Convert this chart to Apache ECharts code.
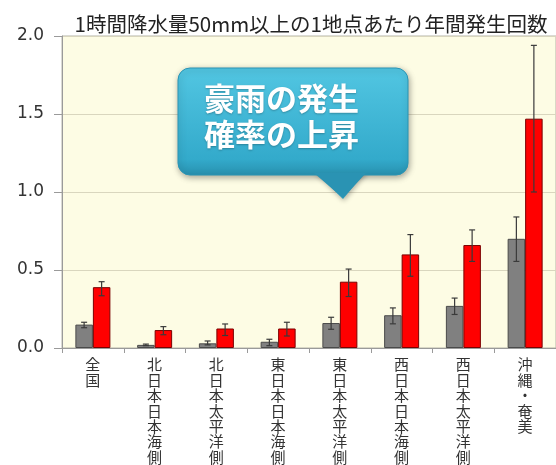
<!DOCTYPE html>
<html>
<head>
<meta charset="utf-8">
<script src="https://cdn.jsdelivr.net/npm/echarts@6/dist/echarts.min.js"></script>
<style>html,body{margin:0;padding:0;background:#fff;}#c{width:556px;height:465px;}</style>
</head>
<body>
<div id="c"></div>
<script>
var titleText = '1時間降水量50mm以上の1地点あたり年間発生回数';
var categories = ['全国','北日本日本海側','北日本太平洋側','東日本日本海側','東日本太平洋側','西日本日本海側','西日本太平洋側','沖縄・奄美'];
var presentValues = [0.15, 0.02, 0.03, 0.04, 0.16, 0.21, 0.27, 0.70];
var presentLow    = [0.13, 0.015, 0.02, 0.015, 0.12, 0.155, 0.215, 0.555];
var presentHigh   = [0.165, 0.025, 0.045, 0.056, 0.197, 0.257, 0.32, 0.84];
var futureValues  = [0.39, 0.115, 0.125, 0.125, 0.425, 0.60, 0.66, 1.47];
var futureLow     = [0.335, 0.085, 0.08, 0.077, 0.33, 0.46, 0.555, 1.0];
var futureHigh    = [0.425, 0.137, 0.154, 0.165, 0.506, 0.727, 0.757, 1.94];
var calloutLines = ['豪雨の発生', '確率の上昇'];

var BAR_W = 17.5;
function errData(low, high) {
  return low.map(function (l, i) { return [i, l, high[i]]; });
}
function errRender(offset) {
  return function (params, api) {
    var i = api.value(0);
    var top = api.coord([i, api.value(2)]);
    var bot = api.coord([i, api.value(1)]);
    var x = top[0] + offset;
    var cap = 3;
    var st = { stroke: '#3a3a3a', lineWidth: 1.2 };
    return { type: 'group', children: [
      { type: 'line', shape: { x1: x, y1: top[1], x2: x, y2: bot[1] }, style: st },
      { type: 'line', shape: { x1: x - cap, y1: top[1], x2: x + cap, y2: top[1] }, style: st },
      { type: 'line', shape: { x1: x - cap, y1: bot[1], x2: x + cap, y2: bot[1] }, style: st }
    ] };
  };
}

var grad = new echarts.graphic.LinearGradient(0, 0, 0, 1, [
  { offset: 0, color: '#52C6E2' },
  { offset: 0.85, color: '#33AACB' },
  { offset: 1, color: '#2890AE' }
]);

var chart = echarts.init(document.getElementById('c'), null, { renderer: 'canvas' });
chart.setOption({
  backgroundColor: '#ffffff',
  animation: false,
  title: {
    text: titleText, left: 306, top: 9, textAlign: 'center',
    textStyle: { fontFamily: 'Noto Sans CJK JP', fontSize: 20.5, fontWeight: 'normal', color: '#222' }
  },
  grid: {
    left: 62, right: -3, top: 36, bottom: 117, show: true,
    backgroundColor: '#FDFCE4', borderColor: '#B4B4A8', borderWidth: 1
  },
  xAxis: {
    type: 'category', data: categories,
    axisLine: { lineStyle: { color: '#9a9a9a' } },
    axisTick: { show: true, length: 5, lineStyle: { color: '#9a9a9a' } },
    axisLabel: {
      interval: 0, margin: 9,
      fontFamily: 'Noto Sans CJK JP', fontSize: 15, lineHeight: 15.4, color: '#333',
      formatter: function (v) { return v.split('').join('\n'); }
    }
  },
  yAxis: {
    type: 'value', min: 0, max: 2, interval: 0.5,
    axisLine: { show: true, lineStyle: { color: '#9a9a9a' } },
    axisTick: { show: true, length: 8, lineStyle: { color: '#9a9a9a' } },
    splitLine: { lineStyle: { color: '#D9D6BE' } },
    axisLabel: {
      margin: 18, fontFamily: 'DejaVu Sans', fontSize: 17, color: '#333',
      formatter: function (v) { return Number(v).toFixed(1); }
    }
  },
  series: [
    {
      name: '現在', type: 'bar', data: presentValues, barWidth: BAR_W, barGap: '0%',
      itemStyle: { color: '#808080', borderColor: '#4a4a4a', borderWidth: 1 }
    },
    {
      name: '将来', type: 'bar', data: futureValues, barWidth: BAR_W, barGap: '0%',
      itemStyle: { color: '#FF0000', borderColor: '#7a0000', borderWidth: 1 }
    },
    {
      type: 'custom', data: errData(presentLow, presentHigh), renderItem: errRender(-BAR_W / 2),
      encode: { x: 0, y: [1, 2] }, z: 10, silent: true
    },
    {
      type: 'custom', data: errData(futureLow, futureHigh), renderItem: errRender(BAR_W / 2),
      encode: { x: 0, y: [1, 2] }, z: 10, silent: true
    }
  ],
  graphic: [
    {
      type: 'polygon', z: 100,
      shape: { points: [[313, 170], [367, 170], [343, 199]] },
      style: {
        fill: '#2E9FC0',
        shadowBlur: 5, shadowColor: 'rgba(0,0,0,0.3)', shadowOffsetX: 1, shadowOffsetY: 2
      }
    },
    {
      type: 'rect', z: 101,
      shape: { x: 178, y: 68, width: 230, height: 107, r: 12 },
      style: {
        fill: grad, stroke: '#2A95B5', lineWidth: 1,
        shadowBlur: 6, shadowColor: 'rgba(0,0,0,0.35)', shadowOffsetX: 1, shadowOffsetY: 2
      }
    },
    {
      type: 'polygon', z: 102,
      shape: { points: [[314, 173], [366, 173], [343, 198]] },
      style: { fill: '#2A93B3' }
    },
    {
      type: 'text', z: 103, left: 204, top: 80,
      style: {
        text: calloutLines.join('\n'), fill: '#ffffff',
        font: 'bold 31px "Noto Sans CJK JP"', lineHeight: 36,
        textShadowColor: 'rgba(0,0,0,0.25)', textShadowBlur: 2, textShadowOffsetY: 1
      }
    }
  ]
});
</script>
</body>
</html>
